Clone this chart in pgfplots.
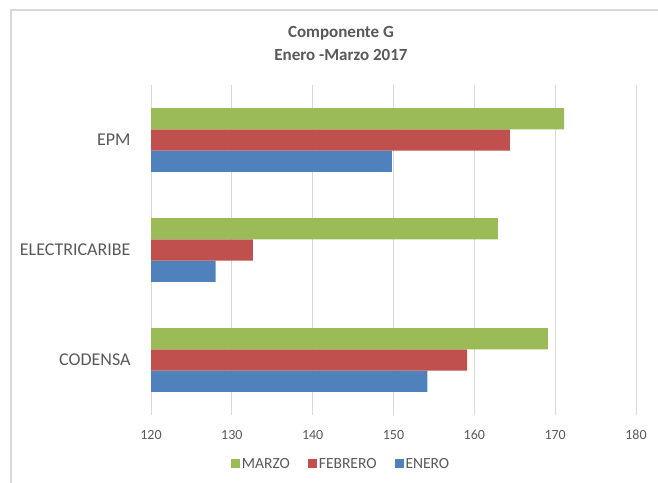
\documentclass[border=0pt]{standalone}
\usepackage{pgfplots}
\pgfplotsset{compat=1.18}
\usepackage{fontspec}
\setmainfont{Carlito}
\definecolor{cMarzo}{HTML}{9BBB59}
\definecolor{cFeb}{HTML}{C0504D}
\definecolor{cEne}{HTML}{4F81BD}
\definecolor{txt}{HTML}{595959}
\definecolor{gridc}{HTML}{D9D9D9}

\begin{document}
\begin{tikzpicture}
\useasboundingbox (0,0) rectangle (658bp,483bp);
\draw[gridc, line width=1.2bp] (11bp,-5bp) -- (11bp,473bp) -- (665bp,473bp);
\node[text=txt, font=\fontsize{17bp}{23bp}\selectfont\bfseries, align=center]
  at (341bp,440bp) {Componente G\\Enero -Marzo 2017};
\begin{axis}[
  at={(151bp,68bp)}, anchor=south west,
  width=485bp, height=330bp, scale only axis,
  xbar, bar width=21.3bp,
  xmin=120, xmax=180, xtick={120,130,...,180},
  ymin=-0.5, ymax=2.5, ytick={0,1,2},
  yticklabels={CODENSA,ELECTRICARIBE,EPM},
  axis line style={draw=none}, tick style={draw=none},
  xmajorgrids, ymajorgrids=false,
  x grid style={gridc, line width=1bp},
  /pgf/number format/assume math mode=true,
  xticklabel style={text=txt, font=\fontsize{14bp}{16bp}\selectfont, anchor=center, yshift=-20bp},
  yticklabel style={text=txt, font=\fontsize{18bp}{20bp}\selectfont, anchor=east, inner sep=0pt, xshift=-16bp},
  legend columns=3,
  legend style={at={(0.392,-0.148)}, anchor=center, draw=none, text=txt,
    font=\fontsize{15.5bp}{17bp}\selectfont,
    /tikz/every even column/.append style={column sep=16bp}},
  legend image code/.code={\fill[#1] (0bp,-4.5bp) rectangle (9bp,4.5bp);},
  reverse legend,
]
\addplot[draw=none, fill=cEne, bar shift=-21.3bp] coordinates {(154.2,0) (128.0,1) (149.8,2)};
\addlegendentry{ENERO}
\addplot[draw=none, fill=cFeb, bar shift=0bp] coordinates {(159.1,0) (132.6,1) (164.4,2)};
\addlegendentry{FEBRERO}
\addplot[draw=none, fill=cMarzo, bar shift=21.3bp] coordinates {(169.1,0) (162.9,1) (171.1,2)};
\addlegendentry{MARZO}
\end{axis}
\end{tikzpicture}
\end{document}
